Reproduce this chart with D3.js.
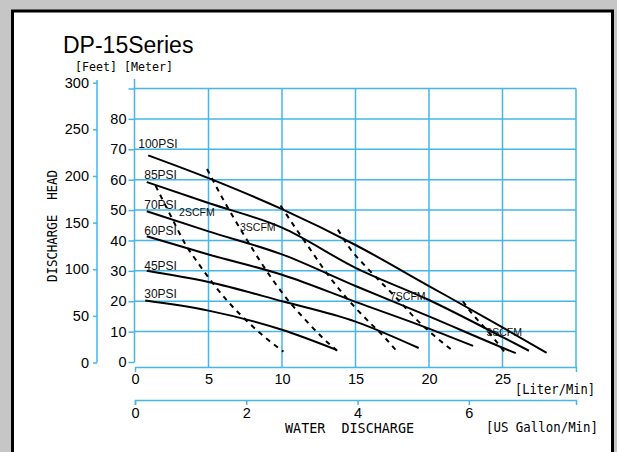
<!DOCTYPE html>
<html><head><meta charset="utf-8">
<script src="https://cdn.jsdelivr.net/npm/d3@7"></script>
<style>
html,body{margin:0;padding:0;background:#c6c6c6;}
svg{display:block;}
</style></head>
<body>
<svg id="c" width="617" height="452"></svg>
<script>
// ---- data ----
const literTicks = [0, 5, 10, 15, 20, 25];
const gallonTicks = [0, 2, 4, 6];
const feetTicks = [0, 50, 100, 150, 200, 250, 300];
const meterTicks = [0, 10, 20, 30, 40, 50, 60, 70, 80, 90];
const gridLiters = [5, 10, 15, 20, 25, 30];
const gridMeters = [10, 20, 30, 40, 50, 60, 70, 80, 90];

const psiNames = ["100PSI", "85PSI", "70PSI", "60PSI", "45PSI", "30PSI"];
const psi100 = [[0.9,68],[5,60.5],[10,50.3],[15,38.5],[20,25],[25,11.4],[28,3]];
const psi85  = [[0.8,59.2],[5,52.3],[10,44.2],[15,31],[20,20.4],[25,8.2],[26.8,3.7]];
const psi70  = [[0.8,49.6],[5,43],[10,35.4],[15,25],[20,15],[25,4.7],[25.9,2.9]];
const psi60  = [[0.8,41.4],[5,35.4],[10,28.7],[15,19.8],[20,11],[23.0,5.3]];
const psi45  = [[0.8,30],[5,26.3],[10,20],[15,13.3],[19.3,4.6]];
const psi30  = [[0.7,20.2],[5,16.9],[10,10.6],[13.7,4.0]];
const psiLabelAt = [[0.22,70.3],[0.63,60.1],[0.63,50.2],[0.63,41.9],[0.63,30.4],[0.63,21.0]];

const scfmA = [[1.4,58],[2.6,46.5],[3.4,39],[4.3,32.5],[5.2,26.5],[6.3,20],[7.5,14],[8.8,8.3],[10.1,3.4]];
const scfmB = [[4.9,63.5],[6.1,52.6],[7.4,41.9],[8.7,31.8],[10.2,21.6],[11.7,13.3],[12.8,7.8],[13.8,3.5]];
const scfmC = [[9.9,51.5],[11.0,43.5],[12.0,36.5],[13.0,29.5],[14.0,23.3],[15.0,17.8],[16.0,12.8],[17.0,8.0],[17.9,3.0]];
const scfmD = [[13.8,43.6],[14.6,37.5],[15.8,30.9],[17.9,20.5],[19.1,14.2],[20.3,8.9],[21.7,3.4]];
const scfmE = [[22.3,20],[22.9,16.1],[23.5,12.8],[24.3,8.4],[25.2,2.9]];
const scfmNames = ["2SCFM", "3SCFM", "7SCFM", "9SCFM"];
const scfmLabelAt = [[3.0,48.0],[7.14,43.0],[17.35,20.5],[23.9,8.7]];

// ---- drawing ----
const BLUE = "#45b6e8";
const svg = d3.select("#c");

svg.append("rect").attr("x",12.5).attr("y",11).attr("width",600).attr("height",470)
  .attr("fill","#fff").attr("stroke","#000").attr("stroke-width",3);

const x = d3.scaleLinear().domain([0,30]).range([135,576]);
const xg = d3.scaleLinear().domain([0,30/3.785]).range([135,576]);
const ym = d3.scaleLinear().domain([0,90]).range([362,88.5]);
const yf = d3.scaleLinear().domain([0,300]).range([362.5,82.7]);

const numFont = "'Liberation Sans', Arial, sans-serif";
const monoFont = "'DejaVu Sans Mono', 'Liberation Mono', monospace";

// grid
const g = svg.append("g");
g.selectAll("line.h").data(gridMeters).join("line")
  .attr("x1", x(0)).attr("x2", x(30))
  .attr("y1", d => ym(d)).attr("y2", d => ym(d))
  .attr("stroke", BLUE).attr("stroke-width", 1.5);
g.selectAll("line.v").data(gridLiters).join("line")
  .attr("x1", d => x(d)).attr("x2", d => x(d))
  .attr("y1", ym(90)).attr("y2", 367)
  .attr("stroke", BLUE).attr("stroke-width", 1.5);

function styleAxis(sel, fs){
  sel.selectAll("path,line").attr("stroke", BLUE).attr("stroke-width", 1.5);
  sel.selectAll("text").attr("fill","#000").attr("font-family", numFont).attr("font-size", fs);
  sel.attr("font-family", numFont);
}

// feet axis
const fa = svg.append("g").attr("transform","translate(97,0)")
  .call(d3.axisLeft(yf).tickValues(feetTicks).tickSize(4).tickSizeOuter(0).tickPadding(4));
styleAxis(fa, 14.5);
fa.select("path.domain").attr("d", `M0,${yf(0)}V80`);

// meter axis
const ma = svg.append("g").attr("transform",`translate(${x(0)-0.5},0)`)
  .call(d3.axisLeft(ym).tickValues(meterTicks).tickSize(6).tickSizeOuter(0).tickPadding(2)
    .tickFormat(d => d === 90 ? "" : d));
styleAxis(ma, 14.5);
ma.select("path.domain").attr("d", `M0,${ym(0)}V79`);

// liter axis
const la = svg.append("g").attr("transform","translate(0,367)")
  .call(d3.axisBottom(x).tickValues(literTicks).tickSize(0).tickSizeOuter(5).tickPadding(7));
styleAxis(la, 14.5);

// gallon axis
const ga = svg.append("g").attr("transform","translate(0,400)")
  .call(d3.axisBottom(xg).tickValues(gallonTicks).tickSize(5).tickSizeOuter(5).tickPadding(3));
styleAxis(ga, 14.5);

// curves
const line = d3.line().x(d => x(d[0])).y(d => ym(d[1])).curve(d3.curveMonotoneX);
const psiSeries = [psi100, psi85, psi70, psi60, psi45, psi30];
svg.append("g").selectAll("path").data(psiSeries).join("path")
  .attr("d", line).attr("fill","none").attr("stroke","#000").attr("stroke-width",2);

const scfmSeries = [scfmA, scfmB, scfmC, scfmD, scfmE];
svg.append("g").selectAll("path").data(scfmSeries).join("path")
  .attr("d", line).attr("fill","none").attr("stroke","#000").attr("stroke-width",2)
  .attr("stroke-dasharray","5,5");

// labels
svg.append("g").selectAll("text").data(psiNames).join("text")
  .attr("x", (d,i) => x(psiLabelAt[i][0])).attr("y", (d,i) => ym(psiLabelAt[i][1]))
  .attr("font-family", numFont).attr("font-size", 12).attr("fill","#111").text(d => d);
svg.append("g").selectAll("text").data(scfmNames).join("text")
  .attr("x", (d,i) => x(scfmLabelAt[i][0])).attr("y", (d,i) => ym(scfmLabelAt[i][1]))
  .attr("font-family", numFont).attr("font-size", 10.5).attr("fill","#111").text(d => d);

// titles
svg.append("text").attr("x",63).attr("y",53).attr("font-family",numFont)
  .attr("font-size",23).attr("fill","#000").text("DP-15Series");

function mono(t, x0, y0, len, opts={}){
  const el = svg.append("text").attr("x",x0).attr("y",y0).attr("font-family",monoFont)
    .attr("font-size", opts.fs || 14).attr("fill","#000")
    .attr("textLength", len).attr("lengthAdjust","spacingAndGlyphs")
    .attr("xml:space","preserve").style("white-space","pre").text(t);
  if (opts.rot) el.attr("transform", opts.rot);
  return el;
}
mono("[Feet] [Meter]", 75, 71, 98, {fs:13});
mono("[Liter/Min]", 515, 394, 80);
mono("[US Gallon/Min]", 486, 431.5, 112);
mono("WATER  DISCHARGE", 285, 433, 129);
mono("DISCHARGE  HEAD", 0, 0, 112, {rot:"translate(57,282) rotate(-90)"});
</script>
</body></html>
